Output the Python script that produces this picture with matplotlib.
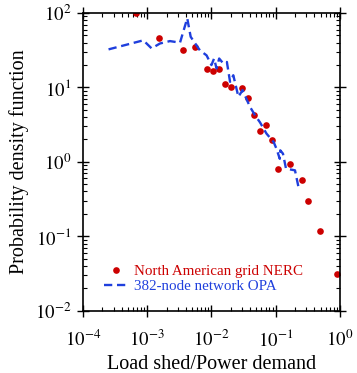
import numpy as np
import matplotlib
matplotlib.use('Agg')
import matplotlib.pyplot as plt

plt.rcParams['font.family'] = ['Liberation Serif', 'DejaVu Serif']
plt.rcParams['mathtext.fontset'] = 'stix'

# NERC data (load shed fraction, pdf)
nerc_x = [6.7e-4, 1.55e-3, 3.6e-3, 5.5e-3, 8.5e-3, 1.05e-2, 1.3e-2, 1.6e-2, 2.0e-2,
          3.0e-2, 3.75e-2, 4.6e-2, 5.75e-2, 7.05e-2, 8.75e-2, 0.11, 0.167, 0.256,
          0.314, 0.483, 0.908]
nerc_y = [100, 46.5, 31.8, 34.5, 17.8, 16.9, 17.6, 11.0, 10.0, 9.8, 7.2, 4.24,
          2.58, 3.1, 1.94, 0.79, 0.95, 0.57, 0.30, 0.116, 0.031]

# OPA model (382-node network)
opa_x = [2.5e-4, 8.7e-4, 1.17e-3, 1.58e-3, 2.26e-3, 3.24e-3, 4.2e-3, 4.75e-3,
         6.6e-3, 8.4e-3, 1.0e-2, 1.1e-2, 1.2e-2, 1.32e-2, 1.53e-2, 1.74e-2,
         1.95e-2, 2.19e-2, 2.63e-2, 3.05e-2, 3.98e-2, 4.8e-2, 5.7e-2, 7.2e-2,
         9.3e-2, 0.103, 0.116, 0.118, 0.13, 0.145, 0.2, 0.233]
opa_y = [32.5, 43, 33.5, 39, 42, 40, 85, 48, 31.6, 27, 20, 24.5, 18, 24.5, 21, 22,
         11.9, 14.6, 7.5, 9.2, 5.5, 4.2, 3.4, 2.4, 1.85, 1.5, 1.1, 1.43, 1.29,
         0.81, 0.77, 0.41]

fig = plt.figure(figsize=(3.57, 3.73), dpi=100)
ax = fig.add_axes([0.2325, 0.167, 0.7195, 0.798])

ax.plot(nerc_x, nerc_y, 'o', color='#cc0000', markersize=4.8, markeredgewidth=0,
        label='North American grid NERC')
ax.plot(opa_x, opa_y, '--', color='#1f3fdd', linewidth=1.7, dashes=(3.5, 2.0),
        label='382-node network OPA')

ax.set_xscale('log')
ax.set_yscale('log')
ax.set_xlim(1e-4, 1)
ax.set_ylim(1e-2, 1e2)

ax.tick_params(which='both', top=True, right=True, labelsize=13.5)
ax.tick_params(which='major', direction='inout', length=9, width=1)
ax.tick_params(which='minor', direction='in', length=3, width=0.8)
ax.tick_params(axis='x', which='major', pad=9)
ax.tick_params(axis='y', which='major', pad=4)
ax.set_xticks([1e-4, 1e-3, 1e-2, 1e-1, 1])
ax.set_xticklabels(['$10^{-4}$', '$10^{-3}$', '$10^{-2}$', '$10^{-1}$', '$10^{0}$'])
ax.set_yticks([1e-2, 1e-1, 1, 1e1, 1e2])
ax.set_yticklabels(['$10^{-2}$', '$10^{-1}$', '$10^{0}$', '$10^{1}$', '$10^{2}$'])

ax.set_xlabel('Load shed/Power demand', fontsize=14.5, labelpad=3)
ax.set_ylabel('Probability density function', fontsize=14.5, labelpad=4)

leg = ax.legend(loc='lower left', bbox_to_anchor=(0.06, 0.04), frameon=False,
                fontsize=10.8, handlelength=1.5, handletextpad=0.5,
                labelspacing=0.1, borderaxespad=0)
for txt, c in zip(leg.get_texts(), ['#cc0000', '#1f3fdd']):
    txt.set_color(c)

for s in ax.spines.values():
    s.set_linewidth(1.2)

fig.savefig('out.png', dpi=100)
